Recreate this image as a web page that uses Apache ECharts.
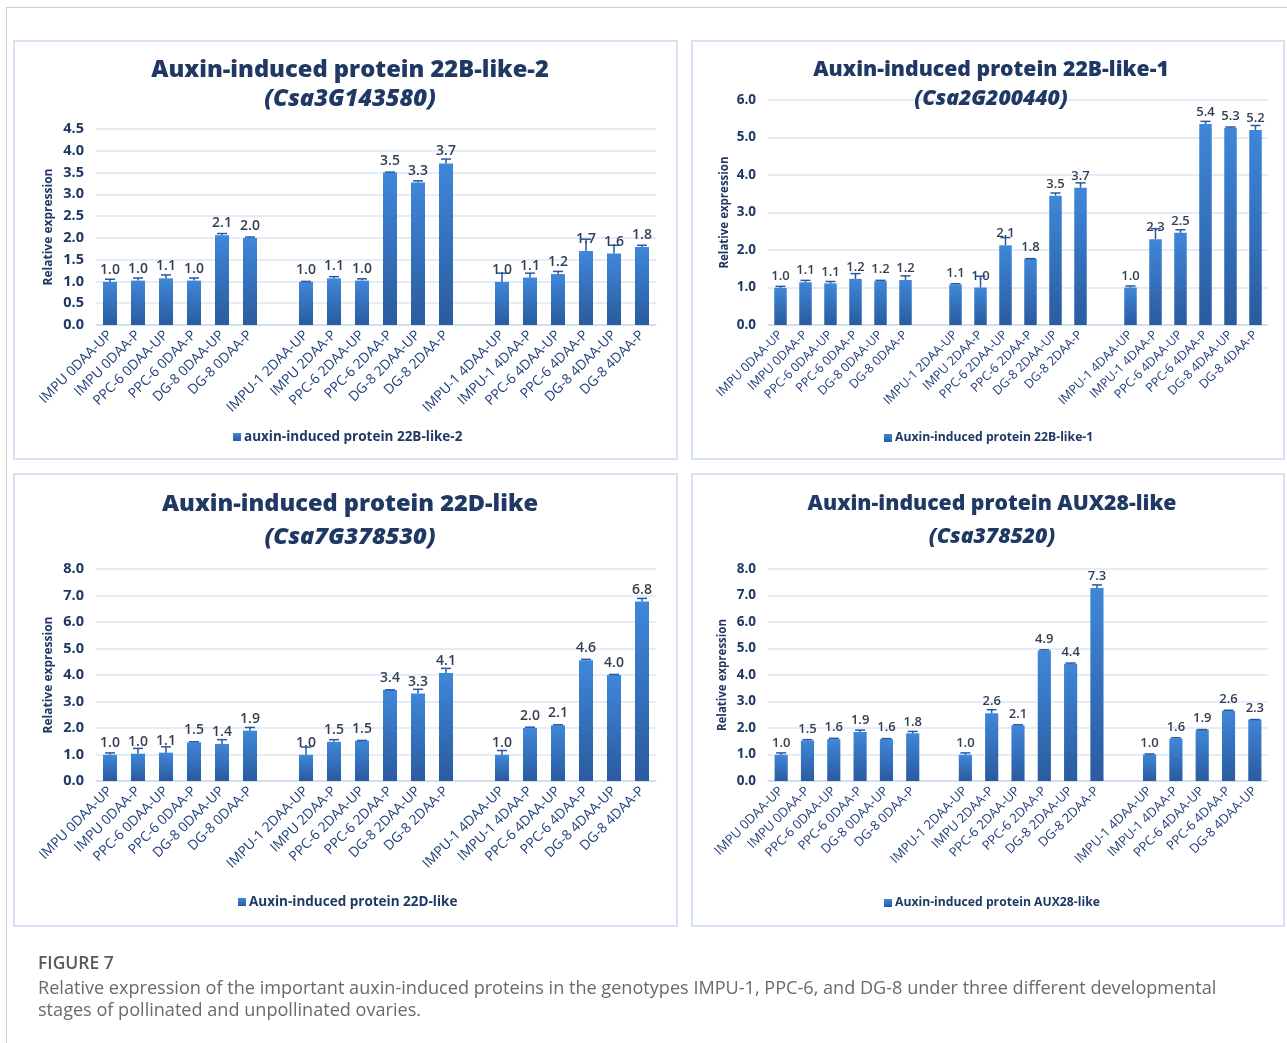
<!DOCTYPE html>
<html>
<head>
<meta charset="utf-8">
<script src="https://cdn.jsdelivr.net/npm/echarts@6/dist/echarts.min.js"></script>
<style>
html,body{margin:0;padding:0;background:#fff;}
#chart{width:1287px;height:1043px;}
.pre{position:absolute;left:-9999px;top:0;font-family:"Open Sans";}
</style>
</head>
<body>
<div class="pre"><span style="font-weight:bold">Aa</span><span style="font-weight:800">Aa</span><span style="font-weight:bold;font-style:italic">Aa</span><span style="font-weight:600">Aa</span><span>Aa</span></div>
<div id="chart"></div>
<script>
// ---------- DATA ----------
const stage0Cats = ['IMPU 0DAA-UP','IMPU 0DAA-P','PPC-6 0DAA-UP','PPC-6 0DAA-P','DG-8 0DAA-UP','DG-8 0DAA-P'];
const stage2Cats = ['IMPU-1 2DAA-UP','IMPU 2DAA-P','PPC-6 2DAA-UP','PPC-6 2DAA-P','DG-8 2DAA-UP','DG-8 2DAA-P'];
const stage4Cats = ['IMPU-1 4DAA-UP','IMPU-1 4DAA-P','PPC-6 4DAA-UP','PPC-6 4DAA-P','DG-8 4DAA-UP','DG-8 4DAA-P'];
const stage4CatsAux28 = ['IMPU-1 4DAA-UP','IMPU-1 4DAA-P','PPC-6 4DAA-UP','PPC-6 4DAA-P','DG-8 4DAA-UP'];

// Auxin-induced protein 22B-like-2
const vals22B2 = [0.99,1.02,1.07,1.02,2.06,2.00, 0.99,1.07,1.02,3.50,3.27,3.71, 0.99,1.09,1.17,1.70,1.64,1.79];
const errs22B2 = [0.06,0.06,0.08,0.06,0.04,0.02, 0.01,0.04,0.04,0.01,0.04,0.10, 0.20,0.10,0.06,0.27,0.19,0.04];
// Auxin-induced protein 22B-like-1
const vals22B1 = [0.99,1.14,1.11,1.23,1.17,1.20, 1.08,1.00,2.13,1.77,3.45,3.66, 1.00,2.29,2.46,5.36,5.26,5.20];
const errs22B1 = [0.04,0.05,0.05,0.14,0.02,0.11, 0.02,0.30,0.20,0.00,0.07,0.13, 0.04,0.28,0.08,0.07,0.02,0.12];
// Auxin-induced protein 22D-like
const vals22D = [0.99,1.03,1.07,1.46,1.40,1.90, 0.99,1.48,1.52,3.43,3.30,4.08, 0.99,2.00,2.10,4.56,4.00,6.77];
const errs22D = [0.07,0.20,0.22,0.02,0.16,0.12, 0.29,0.08,0.01,0.01,0.16,0.17, 0.16,0.03,0.02,0.03,0.02,0.12];
// Auxin-induced protein AUX28-like
const valsAUX28 = [0.99,1.53,1.58,1.85,1.58,1.80, 0.99,2.56,2.10,4.92,4.42,7.28, 1.00,1.60,1.94,2.64,2.32];
const errsAUX28 = [0.07,0.03,0.03,0.07,0.02,0.07, 0.07,0.13,0.02,0.03,0.03,0.12, 0.02,0.03,0.00,0.03,0.00];

const yTicks22B2 = {min:0, max:4.5, interval:0.5};
const yTicks22B1 = {min:0, max:6, interval:1};
const yTicks22D = {min:0, max:8, interval:1};
const yTicksAUX28 = {min:0, max:8, interval:1};

// ---------- BUILD ----------
function withGaps(groups, gapVal){
  const out = [];
  groups.forEach((g,i)=>{ if(i>0) out.push(gapVal(i)); out.push(...g); });
  return out;
}
function split(arr, sizes){
  const res=[]; let p=0; sizes.forEach(s=>{res.push(arr.slice(p,p+s)); p+=s;}); return res;
}
const cats6 = withGaps([stage0Cats, stage2Cats, stage4Cats], i => ' '.repeat(i));
const catsAux = withGaps([stage0Cats, stage2Cats, stage4CatsAux28], i => ' '.repeat(i));

const FONT = '"Open Sans"';
// fs: [title, catLabel, yTick, barLabel, legend, yName]
const panels = [
  {name:'auxin-induced protein 22B-like-2', t1:'Auxin-induced protein 22B-like-2', t2:'(Csa3G143580)',
   cats:cats6, vals:withGaps(split(vals22B2,[6,6,6]),()=>'-'), errs:withGaps(split(errs22B2,[6,6,6]),()=>'-'),
   y:yTicks22B2, grid:{left:96,top:129,width:560,height:196}, box:[14,41,663,418],
   tx:345, ty1:53, ty2:82, fs:[23.7,13.8,14.5,14,13.5,12], nameGap:41, leg:{left:233,top:430}},
  {name:'Auxin-induced protein 22B-like-1', t1:'Auxin-induced protein 22B-like-1', t2:'(Csa2G200440)',
   cats:cats6, vals:withGaps(split(vals22B1,[6,6,6]),()=>'-'), errs:withGaps(split(errs22B1,[6,6,6]),()=>'-'),
   y:yTicks22B1, grid:{left:768,top:100,width:500,height:225}, box:[692,41,592,418],
   tx:986, ty1:54, ty2:83, fs:[21.2,12.5,13.5,13,12.2,11.5], nameGap:37, leg:{left:884,top:432}},
  {name:'Auxin-induced protein 22D-like', t1:'Auxin-induced protein 22D-like', t2:'(Csa7G378530)',
   cats:cats6, vals:withGaps(split(vals22D,[6,6,6]),()=>'-'), errs:withGaps(split(errs22D,[6,6,6]),()=>'-'),
   y:yTicks22D, grid:{left:96,top:569,width:560,height:212}, box:[14,474,663,452],
   tx:345, ty1:487, ty2:520, fs:[23.6,13.8,14.5,14,13.5,12], nameGap:41, leg:{left:238,top:895}},
  {name:'Auxin-induced protein AUX28-like', t1:'Auxin-induced protein AUX28-like', t2:'(Csa378520)',
   cats:catsAux, vals:withGaps(split(valsAUX28,[6,6,5]),()=>'-'), errs:withGaps(split(errsAUX28,[6,6,5]),()=>'-'),
   y:yTicksAUX28, grid:{left:768,top:569,width:500,height:212}, box:[692,474,592,452],
   tx:987, ty1:488, ty2:521, fs:[21.2,13,13.5,13,12.2,11.5], nameGap:39, leg:{left:884,top:897}}
];

const NAVY = '#1f3864';
const barGrad = {type:'linear',x:0,y:0,x2:0,y2:1,colorStops:[{offset:0,color:'#3f87d9'},{offset:1,color:'#2a5b9f'}]};

function build(){
const option = {
  backgroundColor:'#ffffff',
  animation:false,
  textStyle:{fontFamily:FONT},
  title:[], legend:[], grid:[], xAxis:[], yAxis:[], series:[], graphic:[]
};

option.graphic.push({type:'line',shape:{x1:6,y1:7.5,x2:1287,y2:7.5},style:{stroke:'#cfcfcf',lineWidth:1},silent:true});
option.graphic.push({type:'line',shape:{x1:6.5,y1:7,x2:6.5,y2:1043},style:{stroke:'#cfcfcf',lineWidth:1},silent:true});

panels.forEach((p,i)=>{
  const fs = p.fs;
  option.graphic.push({type:'rect',shape:{x:p.box[0],y:p.box[1],width:p.box[2],height:p.box[3]},
    style:{fill:'none',stroke:'#d6e3f4',lineWidth:2},silent:true,z:-1});
  option.title.push({text:p.t1,left:p.tx,top:p.ty1,textAlign:'center',
    textStyle:{fontFamily:FONT,fontWeight:800,fontSize:fs[0],color:NAVY}});
  option.title.push({text:p.t2,left:p.tx,top:p.ty2,textAlign:'center',
    textStyle:{fontFamily:FONT,fontWeight:800,fontStyle:'italic',fontSize:fs[0],color:NAVY}});
  option.legend.push({data:[p.name],left:p.leg.left,top:p.leg.top,padding:0,icon:'rect',itemWidth:8,itemHeight:8,itemGap:4,
    selectedMode:false,textStyle:{fontFamily:FONT,fontWeight:'bold',fontSize:fs[4],color:NAVY,padding:[0,0,0,-2]}});
  option.grid.push(Object.assign({containLabel:false},p.grid));
  option.xAxis.push({type:'category',gridIndex:i,data:p.cats,
    axisLine:{show:true,lineStyle:{color:'#c9d9ee',width:1.5}},axisTick:{show:false},
    axisLabel:{interval:0,rotate:45,margin:8,fontFamily:FONT,fontSize:fs[1],color:'#1f3f7a'}});
  option.yAxis.push({type:'value',gridIndex:i,min:p.y.min,max:p.y.max,interval:p.y.interval,
    name:'Relative expression',nameLocation:'middle',nameGap:p.nameGap,nameRotate:90,
    nameTextStyle:{fontFamily:FONT,fontWeight:'bold',fontSize:fs[5],color:NAVY},
    axisLine:{show:false},axisTick:{show:false},
    splitLine:{lineStyle:{color:'#dbe6f4',width:1.5}},
    axisLabel:{formatter:v=>v.toFixed(1),fontFamily:FONT,fontWeight:'bold',fontSize:fs[2],color:NAVY,margin:12}});
  option.series.push({type:'bar',name:p.name,xAxisIndex:i,yAxisIndex:i,data:p.vals,barWidth:'50%',
    itemStyle:{color:barGrad},
    label:{show:true,position:'top',distance:5,formatter:q=>Number(q.value).toFixed(1),
      fontFamily:FONT,fontWeight:600,fontSize:fs[3],color:'#333f50'}});
  const errData = [];
  p.vals.forEach((v,k)=>{ if(v!=='-') errData.push([k,v,p.errs[k]]); });
  option.series.push({type:'custom',name:p.name+' err',xAxisIndex:i,yAxisIndex:i,data:errData,z:5,silent:true,
    encode:{x:0,y:1},
    renderItem:function(params,api){
      const x=api.value(0), v=api.value(1), e=api.value(2);
      const b=api.coord([x,v]), t=api.coord([x,v+e]);
      const st={stroke:'#2a57a0',lineWidth:1.5};
      return {type:'group',children:[
        {type:'line',shape:{x1:b[0],y1:b[1],x2:t[0],y2:t[1]},style:st},
        {type:'line',shape:{x1:t[0]-5,y1:t[1],x2:t[0]+5,y2:t[1]},style:st}
      ]};
    }});
});

option.graphic.push({type:'text',left:38,top:955,style:{text:'FIGURE 7',fontFamily:FONT,fontWeight:600,fontSize:17.5,fill:'#5a5a5a'}});
option.graphic.push({type:'text',left:38,top:980,style:{text:'Relative expression of the important auxin-induced proteins in the genotypes IMPU-1, PPC-6, and DG-8 under three different developmental',fontFamily:FONT,fontSize:18.1,fill:'#6a6a6a'}});
option.graphic.push({type:'text',left:38,top:1002,style:{text:'stages of pollinated and unpollinated ovaries.',fontFamily:FONT,fontSize:18.1,fill:'#6a6a6a'}});

const chart = echarts.init(document.getElementById('chart'),null,{renderer:'canvas'});
chart.setOption(option);
}

Promise.all([
  document.fonts.load('bold 20px "Open Sans"'),
  document.fonts.load('800 20px "Open Sans"'),
  document.fonts.load('italic 800 20px "Open Sans"'),
  document.fonts.load('600 20px "Open Sans"'),
  document.fonts.load('20px "Open Sans"')
]).then(build, build);
</script>
</body>
</html>
